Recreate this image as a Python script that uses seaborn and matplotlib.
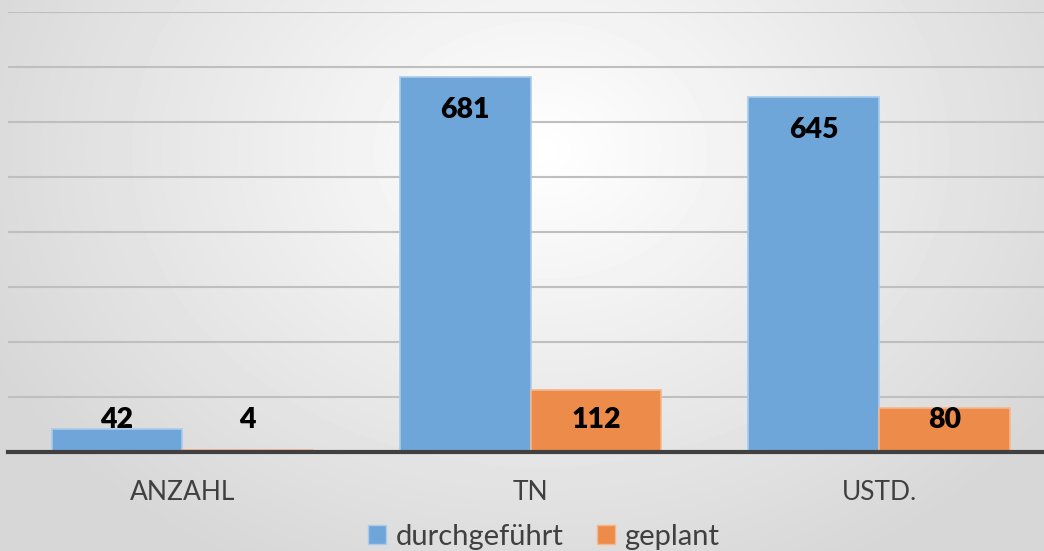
import numpy as np
import pandas as pd
import seaborn as sns
import matplotlib.pyplot as plt
from matplotlib.patches import Patch

# Data
categories = ['ANZAHL', 'TN', 'USTD.']
durchgefuehrt = [42, 681, 645]
geplant = [4, 112, 80]

df = pd.DataFrame({
    'Kategorie': categories * 2,
    'Wert': durchgefuehrt + geplant,
    'Serie': ['durchgeführt'] * 3 + ['geplant'] * 3,
})

sns.set_style('white')
plt.rcParams['font.family'] = ['Lato', 'DejaVu Sans']

fig = plt.figure(figsize=(10.44, 5.51), dpi=100)

# radial background gradient
bg = fig.add_axes([0, 0, 1, 1], zorder=-10)
yy, xx = np.mgrid[0:551, 0:1044]
r = np.sqrt(((xx - 540) / 620.0) ** 2 + ((yy - 150) / 480.0) ** 2)
shade = 1.0 - 0.16 * np.clip(r, 0, 1)
bg.imshow(shade, cmap='gray', vmin=0, vmax=1, aspect='auto', interpolation='bilinear')
bg.axis('off')

ax = fig.add_axes([8 / 1044, (551 - 452) / 551, 1 - 8 / 1044, (452 - 12) / 551])
ax.patch.set_alpha(0)

colors = {'durchgeführt': '#6FA6DA', 'geplant': '#ED8B4A'}
edges = {'durchgeführt': '#A9CBEC', 'geplant': '#F6B68C'}
sns.barplot(data=df, x='Kategorie', y='Wert', hue='Serie', palette=colors,
            saturation=1, width=0.75, ax=ax, legend=False, zorder=3)

for cont, serie in zip(ax.containers, ['durchgeführt', 'geplant']):
    for bar in cont:
        bar.set_edgecolor(edges[serie])
        bar.set_linewidth(1.2)
        v = bar.get_height()
        ax.text(bar.get_x() + bar.get_width() / 2, max(v - 60, 58), f'{v:.0f}',
                ha='center', va='center', fontsize=20.5, fontweight='heavy',
                color='black', zorder=5)

ax.set_xlim(-0.5, 2.473)
ax.set_ylim(0, 800)
ax.set_yticks(range(0, 801, 100))
ax.yaxis.grid(True, color='#BFBFBF', linewidth=1.5, zorder=0)
ax.set_axisbelow(True)
ax.set_yticklabels([])
ax.tick_params(axis='y', length=0)
ax.tick_params(axis='x', length=0, pad=20, labelsize=19, labelcolor='#404040')
ax.set_xlabel('')
ax.set_ylabel('')
for s in ['left', 'right', 'top']:
    ax.spines[s].set_visible(False)
ax.spines['bottom'].set_color('#404040')
ax.spines['bottom'].set_linewidth(3)
ax.spines['bottom'].set_zorder(6)

handles = [Patch(facecolor=colors[k], edgecolor=edges[k], label=k) for k in colors]
fig.legend(handles=handles, loc='center', bbox_to_anchor=(0.521, 0.026), ncol=2,
           frameon=False, fontsize=21, labelcolor='#404040',
           handlelength=0.62, handleheight=0.62, handletextpad=0.32, columnspacing=1.15)

fig.savefig('out.png', dpi=100)
